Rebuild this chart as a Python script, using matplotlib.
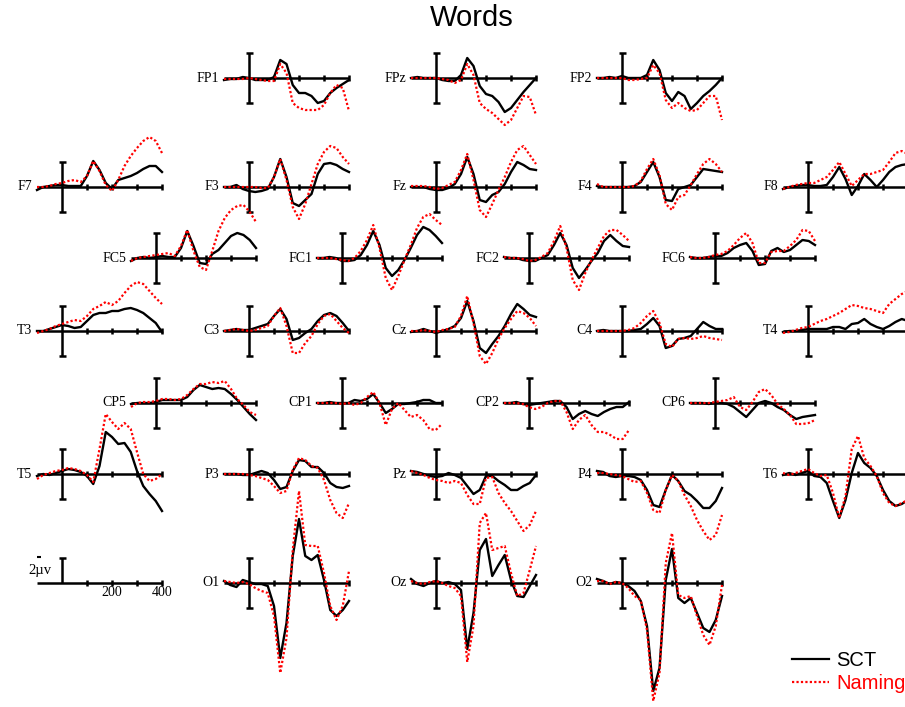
import matplotlib
matplotlib.use("Agg")
import matplotlib.pyplot as plt
from matplotlib.lines import Line2D

W, H = 905, 707
PX_PER_MS = 0.25      # 100 ms = 25 px
PX_PER_UNIT = 10.0    # amplitude unit -> px
BAR_HALF = 2.5
YLIM = 13.0
SERIF = "Liberation Serif"
SANS = "Liberation Sans"

TIMES = list(range(-100, 401, 25))
TICK_TIMES = [100, 200, 300, 400]
SCALE_LABELS = ["200", "400"]

# amplitudes (SCT = solid black, Naming = dotted red)
FP1_S = [-0.2, -0.1, -0.1, 0.1, 0, -0.2, -0.2, -0.2, 0.1, 1.8, 1.4, -0.7, -1.5, -1.5, -1.8, -2.5, -2.3, -1.5, -1.0, -0.6, -0.2]
FP1_N = [-0.1, -0.1, -0.1, -0.1, 0, -0.1, -0.2, -0.3, -0.3, 1.4, 0.5, -2.5, -3.0, -3.2, -3.2, -3.2, -2.7, -1.5, -0.7, -1.0, -3.3]
FPz_S = [0, 0.1, 0, 0, 0, -0.2, -0.3, -0.3, 0.3, 2.0, 1.2, -0.8, -1.6, -1.8, -2.4, -3.4, -3.0, -2.2, -1.4, -0.7, 0]
FPz_N = [0, 0, 0, 0, 0, -0.1, -0.2, -0.5, -0.2, 1.4, 0.3, -2.5, -3.1, -3.5, -4.1, -4.7, -4.2, -3.0, -1.8, -1.9, -3.7]
FP2_S = [0, 0, 0.1, 0, 0.2, 0, 0, 0, 0.3, 1.8, 0.8, -1.5, -2.3, -1.4, -1.8, -3.1, -2.5, -1.8, -1.3, -0.7, 0]
FP2_N = [0, 0, 0, 0, 0, -0.2, -0.2, -0.1, 0, 1.3, 0.5, -2.2, -3.0, -2.5, -3.0, -3.3, -3.2, -2.5, -1.8, -1.8, -4.2]

F7_S = [-0.3, 0, 0.1, 0.2, 0.2, 0.1, 0.1, 0.1, 1.1, 2.6, 1.7, 0.4, -0.2, 0.7, 0.9, 1.1, 1.4, 1.8, 2.1, 2.1, 1.5]
F7_N = [0, 0, 0.1, 0.3, 0.4, 0.6, 0.7, 0.5, 1.1, 2.6, 1.6, 0.2, -0.4, 0.7, 2.1, 3.1, 3.9, 4.6, 5.0, 4.6, 3.4]
F3_S = [0, 0, 0.2, -0.2, -0.4, -0.5, -0.4, -0.2, 1.0, 2.8, 1.0, -1.6, -1.9, -1.3, -0.7, 1.3, 2.3, 2.4, 2.2, 1.8, 1.5]
F3_N = [0, 0, 0, 0, 0, 0, -0.1, -0.1, 1.0, 2.8, 0.7, -2.0, -3.2, -1.7, 0.3, 2.3, 3.5, 4.1, 3.9, 3.0, 2.3]
Fz_S = [0, 0, 0, -0.2, -0.3, -0.3, -0.1, 0.3, 1.3, 3.0, 1.3, -1.3, -1.5, -0.8, -0.5, 0.3, 1.5, 2.5, 2.2, 1.8, 1.7]
Fz_N = [0.1, 0.1, 0.1, 0, -0.2, -0.1, 0.2, 0.5, 1.7, 3.3, 0.7, -2.3, -3.0, -1.7, -0.3, 1.0, 2.5, 3.7, 4.1, 3.2, 2.3]
F4_S = [0.1, 0, 0, 0, 0, 0, 0.1, 0.5, 1.5, 2.5, 1.0, -1.3, -1.4, -0.2, 0, 0.2, 1.0, 1.8, 1.7, 1.6, 1.5]
F4_N = [0.3, 0, 0, 0, 0, 0, 0.1, 0.6, 1.8, 2.8, 1.2, -1.7, -2.3, -1.0, -0.8, 0.2, 1.3, 2.3, 2.8, 2.3, 1.5]
F8_S = [-0.2, 0, 0.1, 0.2, 0.2, 0.1, 0.1, 0.2, 1.0, 2.0, 0.8, -0.8, 0.1, 1.3, 0.7, 0, 0.7, 1.5, 2.0, 2.2, 2.3]
F8_N = [-0.2, 0, 0.2, 0.3, 0.4, 0.4, 0.7, 1.0, 1.7, 2.5, 1.3, 0.1, 0.7, 1.3, 1.3, 1.5, 1.7, 2.5, 3.4, 3.6, 3.3]

FC5_S = [-0.3, 0, 0.1, 0, 0.1, 0.2, 0.1, 0.1, 1.0, 2.7, 1.2, -0.5, -0.6, 0.4, 0.8, 1.5, 2.2, 2.5, 2.3, 1.8, 1.0]
FC5_N = [-0.3, 0, 0.1, 0.2, 0.3, 0.4, 0.5, 0.2, 1.2, 2.8, 0.7, -0.9, -1.2, 0.7, 2.7, 4.0, 4.8, 5.2, 5.3, 4.6, 3.6]
FC1_S = [0, 0, 0.1, 0, -0.3, -0.3, -0.2, 0.3, 1.3, 2.7, 1.3, -1.0, -1.8, -1.2, -0.2, 1.0, 2.3, 3.1, 2.8, 2.2, 1.5]
FC1_N = [0, 0, 0, -0.1, -0.2, -0.3, 0, 0.7, 1.8, 3.3, 1.0, -2.0, -3.2, -1.8, -0.2, 1.3, 3.0, 4.1, 4.4, 3.8, 3.3]
FC2_S = [0.1, 0, 0, -0.2, -0.3, -0.3, 0, 0.3, 1.3, 2.5, 1.3, -1.0, -2.0, -1.2, -0.3, 0.5, 1.7, 2.3, 1.7, 1.2, 1.1]
FC2_N = [0.1, 0, 0, -0.1, -0.3, -0.2, 0.1, 0.5, 1.7, 3.2, 1.0, -2.2, -3.2, -1.5, -0.2, 1.0, 2.2, 2.8, 2.8, 2.3, 1.7]
FC6_S = [0.1, 0, 0, 0.1, 0.2, 0.2, 0.5, 1.0, 1.3, 1.5, 0.7, -0.7, -0.6, 0.7, 1.0, 0.6, 0.8, 1.3, 1.8, 1.7, 1.3]
FC6_N = [0.1, 0, 0, 0.1, 0.3, 0.4, 0.7, 1.3, 2.0, 2.5, 1.5, -0.5, -0.5, 0.6, 0.7, 0.7, 1.2, 1.8, 2.8, 2.7, 1.7]

T3_S = [0, 0, 0.2, 0.4, 0.6, 0.5, 0.3, 0.4, 1.0, 1.6, 1.8, 1.8, 2.0, 2.0, 2.2, 2.3, 2.1, 1.8, 1.3, 0.8, -0.1]
T3_N = [-0.2, 0, 0.2, 0.5, 0.7, 0.9, 1.1, 1.0, 1.5, 2.2, 2.5, 2.9, 2.6, 3.0, 3.8, 4.5, 4.9, 4.7, 4.0, 3.3, 2.7]
C3_S = [0, 0.1, 0.2, 0.1, 0.1, 0.3, 0.5, 0.7, 1.5, 2.2, 1.2, -0.9, -0.7, -0.2, 0.2, 1.0, 1.6, 1.8, 1.5, 0.8, 0]
C3_N = [0, 0.1, 0.2, 0.1, 0, 0.1, 0.3, 0.5, 1.5, 2.3, 0.5, -2.2, -2.2, -1.2, -0.5, 0.7, 1.5, 1.7, 1.0, 0.3, -0.2]
Cz_S = [-0.1, 0, 0.2, 0, -0.2, 0, 0.2, 0.5, 1.3, 3.0, 1.0, -1.7, -2.2, -1.3, -0.5, 0.5, 1.7, 2.7, 2.2, 1.6, 1.4]
Cz_N = [0, 0, 0.1, 0, -0.1, 0.1, 0.2, 0.4, 1.5, 3.5, 0.8, -2.5, -3.3, -2.2, -0.8, 0.3, 1.2, 2.0, 1.8, 1.3, 0.5]
C4_S = [0, 0.1, 0, 0, 0, 0, 0.1, 0.2, 0.7, 1.3, 0.5, -1.7, -1.5, -0.8, -0.7, -0.5, 0.2, 0.9, 0.5, 0.2, 0.2]
C4_N = [0, 0, 0, 0, 0, 0.1, 0.3, 0.8, 1.5, 2.0, 0.8, -1.3, -1.6, -0.8, -0.7, -0.8, -0.7, -0.5, -0.7, -0.8, -0.9]
T4_S = [-0.1, 0, 0, 0.1, 0.2, 0.2, 0.2, 0.2, 0.4, 0.4, 0.2, 0.7, 0.8, 1.2, 0.7, 0.4, 0.2, 0.5, 0.9, 1.2, 1.0]
T4_N = [-0.2, -0.1, 0.1, 0.3, 0.4, 0.7, 1.0, 1.2, 1.5, 1.8, 2.2, 2.6, 2.5, 2.3, 2.2, 2.0, 1.8, 2.7, 3.2, 3.7, 4.0]

CP5_S = [-0.1, 0, 0, 0, 0.1, 0.3, 0.3, 0.3, 0.3, 0.6, 1.3, 1.8, 1.6, 1.4, 1.5, 1.4, 0.9, 0.3, -0.4, -1.1, -1.7]
CP5_N = [-0.4, 0, 0.1, 0.1, 0.2, 0.4, 0.4, 0.3, 0.4, 0.8, 1.4, 1.9, 1.9, 2.1, 2.0, 2.2, 1.4, 0.4, -0.2, -0.9, -1.2]
CP1_S = [0, 0, 0.1, 0, 0, 0, 0.3, 0.2, 0.4, 0.9, 0, -1.0, -0.6, -0.1, -0.1, 0, 0.1, 0.3, 0.3, 0, 0]
CP1_N = [0, 0, 0, 0, -0.1, 0, -0.2, 0, 0.6, 1.1, 0, -2.2, -0.6, 0, -0.7, -1.4, -1.2, -1.7, -2.6, -2.7, -2.1]
CP2_S = [0, 0, 0.1, -0.1, -0.2, -0.1, 0, 0.1, 0.2, 0.2, -0.4, -1.6, -1.1, -0.8, -1.1, -1.3, -0.9, -0.6, -0.4, -0.4, 0.1]
CP2_N = [0, 0, 0, -0.1, -0.4, -0.6, -0.4, 0, 0.2, 0.2, -0.9, -2.6, -1.7, -1.2, -2.2, -2.9, -2.9, -3.2, -3.6, -3.6, -2.7]
CP6_S = [0, 0, 0, -0.1, 0, 0, -0.1, -0.4, -0.9, -1.4, -0.7, 0, 0.2, 0, -0.4, -0.7, -1.2, -1.6, -1.4, -1.3, -1.2]
CP6_N = [0, 0, 0, 0, 0.1, 0.2, 0.3, 0.6, -0.4, -0.7, 0.1, 1.1, 1.4, 0.8, -0.1, -0.6, -1.2, -2.1, -2.1, -2.0, -1.7]

T5_S = [-0.2, 0, -0.1, 0.1, 0.3, 0.5, 0.4, 0.2, -0.2, -1.0, 0.8, 4.2, 3.7, 3.0, 3.1, 2.2, 0.3, -1.2, -2.0, -2.7, -3.7]
T5_N = [-0.5, -0.1, 0.1, 0.3, 0.4, 0.6, 0.5, 0.3, -0.1, -0.8, 2.5, 6.0, 5.2, 4.5, 5.1, 4.5, 2.2, 0, -0.7, -0.5, 0]
P3_S = [0, 0, 0, -0.1, -0.1, 0.1, 0.3, 0.1, -0.6, -1.5, -1.3, 0.3, 1.4, 1.3, 0.7, 0.7, 0.1, -0.9, -1.3, -1.4, -1.2]
P3_N = [0, 0, 0, 0, -0.1, -0.2, -0.4, -0.6, -1.2, -1.9, -1.7, 0.4, 1.6, 1.4, 0.8, 0.6, -0.6, -2.6, -3.9, -4.4, -2.9]
Pz_S = [0.3, 0.2, 0, -0.2, -0.3, -0.2, 0.1, -0.1, -0.4, -1.2, -2.0, -1.6, -0.2, -0.2, -0.7, -1.1, -1.6, -1.6, -1.2, -0.9, -0.1]
Pz_N = [0.3, 0.1, -0.1, -0.4, -0.6, -0.7, -0.9, -0.7, -0.9, -2.1, -3.0, -3.0, -0.4, -0.3, -1.9, -2.9, -3.7, -4.7, -5.7, -5.1, -3.7]
P4_S = [0.3, 0.2, -0.2, -0.3, -0.2, -0.2, -0.3, -0.6, -1.6, -3.1, -3.3, -1.6, -0.1, -0.7, -1.7, -2.1, -2.7, -3.4, -3.4, -2.7, -1.4]
P4_N = [0.1, 0.1, 0, -0.1, -0.2, -0.5, -0.8, -0.7, -1.9, -3.6, -3.9, -1.6, -0.1, -0.7, -2.1, -3.2, -4.6, -5.7, -6.6, -6.1, -4.1]
T6_S = [-0.1, 0.1, -0.1, 0.1, 0.3, -0.2, -0.3, -0.9, -2.7, -4.4, -2.6, 0.1, 2.1, 1.1, 0.6, -0.2, -1.6, -2.7, -3.2, -3.0, -2.6]
T6_N = [0.1, -0.1, 0.1, 0.3, 0.5, 0.1, -0.2, -0.1, -1.9, -4.4, -2.2, 2.5, 3.8, 1.6, 0.8, -0.2, -1.9, -2.9, -3.2, -2.9, -2.6]

O1_S = [0.2, -0.2, -0.4, 0.3, 0.1, -0.1, -0.1, -0.3, -2.3, -7.5, -4.0, 2.7, 6.4, 2.7, 2.3, 2.8, 0.3, -2.7, -3.3, -2.7, -1.8]
O1_N = [0.2, 0.1, 0, 0.1, -0.1, -0.5, -0.8, -1.0, -3.3, -9.0, -5.5, 3.3, 9.2, 3.8, 3.7, 3.7, 1.0, -2.3, -3.7, -2.3, 1.2]
Oz_S = [0.4, -0.1, -0.3, 0, 0.2, 0, 0.1, -0.1, -0.7, -6.6, -3.0, 3.3, 4.4, 0.7, 1.8, 2.8, 0.3, -1.3, -1.4, -0.3, 0.8]
Oz_N = [0.2, 0, -0.1, 0.1, 0.2, 0, -0.3, -0.5, -1.3, -7.9, -4.3, 6.0, 7.0, 3.3, 3.5, 3.7, 1.0, -1.3, -1.0, 1.3, 3.7]
O2_S = [0.4, 0.2, -0.1, 0.1, 0, -0.3, -0.8, -1.8, -4.3, -10.8, -8.5, 0.3, 3.4, -1.5, -2.0, -1.5, -3.0, -4.5, -4.9, -3.7, -1.3]
O2_N = [0.2, 0.2, -0.1, 0.1, 0, -0.5, -1.3, -1.7, -4.7, -11.8, -9.0, 2.0, 5.0, -1.2, -1.5, -1.3, -3.3, -5.2, -6.2, -4.3, -0.2]

# electrode name -> (sct, naming)
WAVES = {
    "FP1": (FP1_S, FP1_N), "FPz": (FPz_S, FPz_N), "FP2": (FP2_S, FP2_N),
    "F7": (F7_S, F7_N), "F3": (F3_S, F3_N), "Fz": (Fz_S, Fz_N), "F4": (F4_S, F4_N), "F8": (F8_S, F8_N),
    "FC5": (FC5_S, FC5_N), "FC1": (FC1_S, FC1_N), "FC2": (FC2_S, FC2_N), "FC6": (FC6_S, FC6_N),
    "T3": (T3_S, T3_N), "C3": (C3_S, C3_N), "Cz": (Cz_S, Cz_N), "C4": (C4_S, C4_N), "T4": (T4_S, T4_N),
    "CP5": (CP5_S, CP5_N), "CP1": (CP1_S, CP1_N), "CP2": (CP2_S, CP2_N), "CP6": (CP6_S, CP6_N),
    "T5": (T5_S, T5_N), "P3": (P3_S, P3_N), "Pz": (Pz_S, Pz_N), "P4": (P4_S, P4_N), "T6": (T6_S, T6_N),
    "O1": (O1_S, O1_N), "Oz": (Oz_S, Oz_N), "O2": (O2_S, O2_N),
}

# layout: pixel position of time zero / baseline for each panel
COLS = {"A": 62, "B": 249, "C": 436, "D": 622, "E": 808,
        "a": 156, "b": 342, "c": 529, "d": 715}
ROWS = [78, 187, 258, 331, 403, 474, 583]
LAYOUT = {
    "FP1": ("B", 0), "FPz": ("C", 0), "FP2": ("D", 0),
    "F7": ("A", 1), "F3": ("B", 1), "Fz": ("C", 1), "F4": ("D", 1), "F8": ("E", 1),
    "FC5": ("a", 2), "FC1": ("b", 2), "FC2": ("c", 2), "FC6": ("d", 2),
    "T3": ("A", 3), "C3": ("B", 3), "Cz": ("C", 3), "C4": ("D", 3), "T4": ("E", 3),
    "CP5": ("a", 4), "CP1": ("b", 4), "CP2": ("c", 4), "CP6": ("d", 4),
    "T5": ("A", 5), "P3": ("B", 5), "Pz": ("C", 5), "P4": ("D", 5), "T6": ("E", 5),
    "O1": ("B", 6), "Oz": ("C", 6), "O2": ("D", 6),
}

fig = plt.figure(figsize=(W / 100, H / 100), dpi=100)


def make_axes(x0, y0):
    left = x0 + TIMES[0] * PX_PER_MS
    width = (TIMES[-1] - TIMES[0]) * PX_PER_MS
    height = 2 * YLIM * PX_PER_UNIT
    bottom = (H - y0) - YLIM * PX_PER_UNIT
    ax = fig.add_axes([left / W, bottom / H, width / W, height / H])
    ax.set_xlim(TIMES[0], TIMES[-1])
    ax.set_ylim(-YLIM, YLIM)
    ax.axis("off")
    ax.patch.set_alpha(0)
    return ax


def draw_frame(ax, full_bar=True):
    kw = dict(color="black", linewidth=1.8, clip_on=False, zorder=2)
    ax.hlines(0, TIMES[0], TIMES[-1], **kw)
    ax.vlines(TICK_TIMES, -0.3, 0.3, **kw)
    low = -BAR_HALF if full_bar else 0
    ax.vlines(0, low, BAR_HALF, **kw)
    ax.hlines(BAR_HALF, -14, 14, **kw)
    if full_bar:
        ax.hlines(-BAR_HALF, -14, 14, **kw)


for name, (col, row) in LAYOUT.items():
    ax = make_axes(COLS[col], ROWS[row])
    draw_frame(ax)
    sct, nam = WAVES[name]
    ax.plot(TIMES, sct, color="black", linewidth=1.7, clip_on=False, zorder=3,
            solid_joinstyle="round")
    ax.plot(TIMES, nam, color="red", linewidth=1.6, linestyle=(0, (1, 1)),
            clip_on=False, zorder=4)
    ax.text(-118, 0, name, ha="right", va="center", fontsize=10,
            family=SERIF, clip_on=False)

# scale panel
ax = make_axes(COLS["A"], ROWS[6])
draw_frame(ax, full_bar=False)
for t, lab in zip(TICK_TIMES[1::2], SCALE_LABELS):
    ax.text(t, -1.0, lab, ha="center", va="center", fontsize=10, family=SERIF)
ax.hlines(BAR_HALF + 0.15, -99, -86, color="black", linewidth=1.5, clip_on=False)
ax.text(-90, 1.25, "2\u00b5v", ha="center", va="center", fontsize=10.5,
        family=SERIF, clip_on=False)

fig.text(472 / W, 1 - 18 / H, "Words", ha="center", va="center",
         fontsize=21, family=SANS)

handles = [Line2D([], [], color="black", linewidth=1.6),
           Line2D([], [], color="red", linewidth=1.6, linestyle=(0, (1, 1)))]
leg = fig.legend(handles, ["SCT", "Naming"], loc="upper left",
                 bbox_to_anchor=(792 / W, 1 - 651 / H), frameon=False,
                 prop={"family": SANS, "size": 14.5}, handlelength=1.85,
                 handletextpad=0.35, labelspacing=0.18, borderpad=0,
                 borderaxespad=0)
leg.get_texts()[1].set_color("red")

fig.savefig("out.png", dpi=100)
